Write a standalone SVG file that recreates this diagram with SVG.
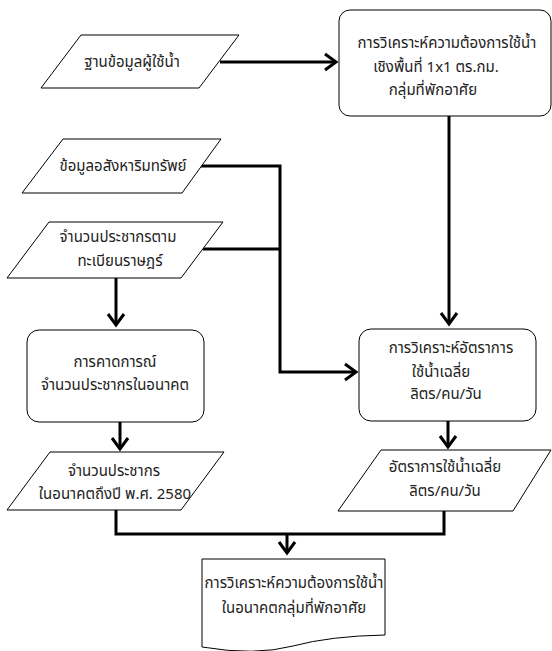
<svg xmlns="http://www.w3.org/2000/svg" width="552" height="651" viewBox="0 0 552 651">
<style>
.s{fill:#fff;stroke:#000;stroke-width:1}
.t{font-family:"Noto Sans Thai","Noto Sans","DejaVu Sans",sans-serif;font-size:15px;fill:#222;text-anchor:middle}
.c{fill:none;stroke:#000;stroke-width:3}
</style>
<defs>
<marker id="a" markerUnits="userSpaceOnUse" markerWidth="30" markerHeight="30" viewBox="-15 -15 30 30" refX="0" refY="0" orient="auto" overflow="visible">
<path d="M-11,-8 L0,0 L-11,8" fill="none" stroke="#000" stroke-width="3"/>
</marker>
</defs>
<g id="connectors">
<path class="c" d="M220,62 H336" marker-end="url(#a)"/>
<path class="c" d="M449,116 V324" marker-end="url(#a)"/>
<path class="c" d="M200,166 H280 V372 H356" marker-end="url(#a)"/>
<path class="c" d="M203,249 H280"/>
<path class="c" d="M116,278 V325" marker-end="url(#a)"/>
<path class="c" d="M120,422 V449" marker-end="url(#a)"/>
<path class="c" d="M448,421 V447" marker-end="url(#a)"/>
<path class="c" d="M116,510 V534 H444 V511"/>
<path class="c" d="M287,534 V553" marker-end="url(#a)"/>
</g>
<g id="n1">
<polygon class="s" points="81,35 239,35 199,88 41,88"/>
<text class="t" x="132" y="67">ฐานข้อมูลผู้ใช้น้ำ</text>
</g>
<g id="n2">
<rect class="s" x="339" y="10" width="212" height="106" rx="11"/>
<text class="t" x="447" y="48">การวิเคราะห์ความต้องการใช้น้ำ</text>
<text class="t" x="436" y="72">เชิงพื้นที่ 1x1 ตร.กม.</text>
<text class="t" x="433" y="95">กลุ่มที่พักอาศัย</text>
</g>
<g id="n3">
<polygon class="s" points="63,139 221,139 182,193 22,193"/>
<text class="t" x="123" y="171">ข้อมูลอสังหาริมทรัพย์</text>
</g>
<g id="n4">
<polygon class="s" points="49,222 223,222 181,278 7,278"/>
<text class="t" x="118" y="242">จำนวนประชากรตาม</text>
<text class="t" x="120" y="266">ทะเบียนราษฎร์</text>
</g>
<g id="n5">
<rect class="s" x="27" y="330" width="177" height="92" rx="12"/>
<text class="t" x="115" y="367">การคาดการณ์</text>
<text class="t" x="115" y="390">จำนวนประชากรในอนาคต</text>
</g>
<g id="n6">
<rect class="s" x="359" y="329" width="177" height="92" rx="12"/>
<text class="t" x="451" y="353">การวิเคราะห์อัตราการ</text>
<text class="t" x="441" y="377">ใช้น้ำเฉลี่ย</text>
<text class="t" x="446" y="399">ลิตร/คน/วัน</text>
</g>
<g id="n7">
<polygon class="s" points="50,452 224,452 181,510 7,510"/>
<text class="t" x="114" y="476">จำนวนประชากร</text>
<text class="t" x="115" y="499">ในอนาคตถึงปี พ.ศ. 2580</text>
</g>
<g id="n8">
<polygon class="s" points="381,450 551,450 513,511 338,511"/>
<text class="t" x="445" y="472">อัตราการใช้น้ำเฉลี่ย</text>
<text class="t" x="445" y="496">ลิตร/คน/วัน</text>
</g>
<g id="n9">
<path class="s" d="M202,559 H385 V635 Q330,636 293,646 Q255,656 202,647 Z"/>
<text class="t" x="294" y="588">การวิเคราะห์ความต้องการใช้น้ำ</text>
<text class="t" x="294" y="613">ในอนาคตกลุ่มที่พักอาศัย</text>
</g>
</svg>
